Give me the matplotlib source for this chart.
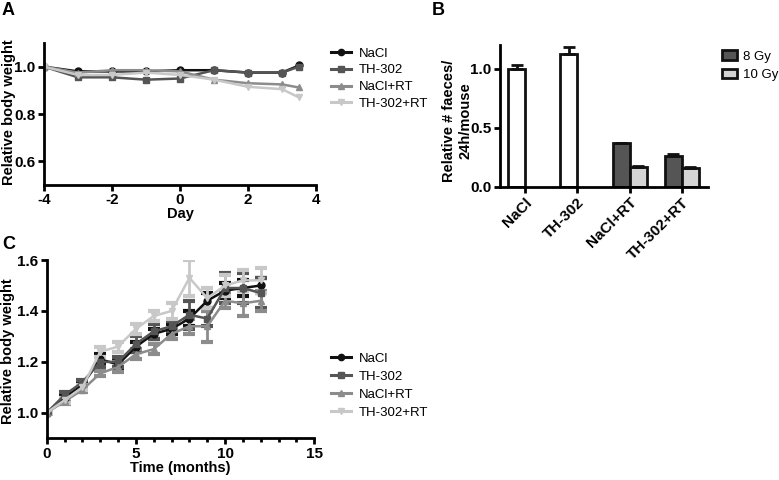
import matplotlib
matplotlib.use("Agg")
import matplotlib.pyplot as plt
from matplotlib.lines import Line2D
import numpy as np

plt.rcParams['font.family'] = ['Liberation Sans', 'DejaVu Sans']
plt.rcParams['axes.unicode_minus'] = False

# ---- Panel A data ----
days = [-4, -3, -2, -1, 0, 1, 2, 3, 3.5]
a_nacl = [1.00, 0.980, 0.980, 0.980, 0.985, 0.985, 0.975, 0.975, 1.005]
a_th302 = [1.00, 0.955, 0.955, 0.945, 0.950, 0.985, 0.975, 0.975, 1.000]
a_naclrt = [1.00, 0.975, 0.985, 0.985, 0.980, 0.945, 0.930, 0.925, 0.912]
a_th302rt = [1.00, 0.965, 0.965, 0.975, 0.965, 0.945, 0.915, 0.905, 0.870]

# ---- Panel B data ----
b_groups = ['NaCl', 'TH-302', 'NaCl+RT', 'TH-302+RT']
b_ctrl = [1.00, 1.12, np.nan, np.nan]
b_ctrl_err = [0.03, 0.06, 0, 0]
b_8gy = [np.nan, np.nan, 0.37, 0.265]
b_8gy_err = [0, 0, 0.005, 0.015]
b_10gy = [np.nan, np.nan, 0.17, 0.16]
b_10gy_err = [0, 0, 0.005, 0.005]

# ---- Panel C data ----
months = list(range(13))
c_nacl = [1.00, 1.06, 1.11, 1.21, 1.19, 1.26, 1.31, 1.33, 1.37, 1.44, 1.48, 1.49, 1.50]
c_nacl_err = [0, 0.01, 0.01, 0.02, 0.02, 0.02, 0.02, 0.02, 0.03, 0.03, 0.03, 0.03, 0.03]
c_th302 = [1.00, 1.07, 1.12, 1.20, 1.20, 1.27, 1.32, 1.34, 1.385, 1.37, 1.49, 1.49, 1.47]
c_th302_err = [0, 0.01, 0.01, 0.02, 0.02, 0.03, 0.03, 0.02, 0.055, 0.03, 0.06, 0.06, 0.06]
c_naclrt = [1.00, 1.045, 1.09, 1.155, 1.18, 1.23, 1.25, 1.31, 1.34, 1.34, 1.44, 1.43, 1.44]
c_naclrt_err = [0, 0.01, 0.01, 0.01, 0.02, 0.02, 0.02, 0.02, 0.03, 0.06, 0.03, 0.05, 0.04]
c_th302rt = [1.00, 1.05, 1.10, 1.24, 1.26, 1.33, 1.38, 1.40, 1.53, 1.45, 1.50, 1.52, 1.52]
c_th302rt_err = [0, 0.01, 0.01, 0.02, 0.02, 0.02, 0.02, 0.03, 0.07, 0.04, 0.04, 0.04, 0.05]

names = ['NaCl', 'TH-302', 'NaCl+RT', 'TH-302+RT']
colors = ['#111111', '#555555', '#8c8c8c', '#c8c8c8']
markers = ['o', 's', '^', 'v']

fig = plt.figure(figsize=(7.79, 4.80), dpi=100)
W, H = 779, 480

def axes_px(l, t, r, b):
    return fig.add_axes([l / W, 1 - b / H, (r - l) / W, (b - t) / H])

def style(ax):
    for s in ['top', 'right']:
        ax.spines[s].set_visible(False)
    for s in ['left', 'bottom']:
        ax.spines[s].set_linewidth(2)
    ax.tick_params(width=2, length=4, labelsize=11, pad=2)
    for lab in ax.get_xticklabels() + ax.get_yticklabels():
        lab.set_fontweight('bold')

def ylabel_at(ax, text, xpx, ycpx, l, t, r, b):
    ax.set_ylabel(text, fontsize=10.5, fontweight='bold')
    ax.yaxis.set_label_coords((xpx - l) / (r - l), (b - ycpx) / (b - t))
    ax.yaxis.label.set_va('center')

def legend_handles():
    return [Line2D([], [], color=c, marker=m, markersize=4.5, linewidth=2.2) for c, m in zip(colors, markers)]

# ---- Panel A ----
A = (44, 43, 316, 185)
axA = axes_px(*A)
for vals, c, m, n in zip([a_nacl, a_th302, a_naclrt, a_th302rt], colors, markers, names):
    axA.plot(days, vals, color=c, marker=m, markersize=5, linewidth=1.8, label=n)
axA.set_xlim(-4, 4)
axA.set_ylim(0.5, 1.1)
axA.set_xticks([-4, -2, 0, 2, 4])
axA.set_yticks([0.6, 0.8, 1.0])
style(axA)
axA.set_xlabel('Day', fontsize=10.5, fontweight='bold', labelpad=0)
ylabel_at(axA, 'Relative body weight', 9, 112, *A)
axA.legend(legend_handles(), names, loc='upper left', bbox_to_anchor=(326 / W, 1 - 42 / H),
           bbox_transform=fig.transFigure, frameon=False, fontsize=9.5, handlelength=1.5,
           labelspacing=0.35, handletextpad=0.6, borderaxespad=0)

# ---- Panel B ----
B = (500, 45, 708, 187)
axB = axes_px(*B)
x = np.arange(len(b_groups))
bw = 0.325
ekw = dict(capsize=4, elinewidth=2, capthick=2, ecolor='#111111')
axB.bar(x - bw / 2, b_ctrl, width=bw, color='white', edgecolor='#111111', linewidth=2,
        yerr=[np.zeros(4), b_ctrl_err], error_kw=ekw)
axB.bar(x - bw / 2, b_8gy, width=bw, color='#555555', edgecolor='#111111', linewidth=2,
        yerr=[np.zeros(4), b_8gy_err], error_kw=ekw, label='8 Gy')
axB.bar(x + bw / 2, b_10gy, width=bw, color='#d4d4d4', edgecolor='#111111', linewidth=2,
        yerr=[np.zeros(4), b_10gy_err], error_kw=ekw, label='10 Gy')
axB.set_xlim(-0.48, 3.5)
axB.set_ylim(0, 1.2)
axB.set_yticks([0.0, 0.5, 1.0])
axB.set_xticks(x)
axB.set_xticklabels(b_groups, rotation=45, ha='right', rotation_mode='anchor')
style(axB)
ylabel_at(axB, 'Relative # faeces/\n24h/mouse', 457, 121, *B)
axB.legend(loc='upper left', bbox_to_anchor=(717 / W, 1 - 45 / H), bbox_transform=fig.transFigure,
           frameon=False, fontsize=9.5, handlelength=1.1, handleheight=0.75, labelspacing=0.45,
           handletextpad=0.5, borderaxespad=0)

# ---- Panel C ----
C = (46.7, 260, 314.3, 438.3)
axC = axes_px(*C)
for vals, errs, c, m, n in zip([c_nacl, c_th302, c_naclrt, c_th302rt],
                               [c_nacl_err, c_th302_err, c_naclrt_err, c_th302rt_err],
                               colors, markers, names):
    axC.errorbar(months, vals, yerr=errs, color=c, marker=m, markersize=5, linewidth=1.8,
                 capsize=4, elinewidth=2, capthick=3, label=n)
axC.set_xlim(0, 15)
axC.set_ylim(0.9, 1.6)
axC.set_xticks([0, 5, 10, 15])
axC.set_xticks(np.arange(0, 16, 1), minor=True)
style(axC)
axC.tick_params(which='minor', width=2, length=3)
axC.set_xlabel('Time (months)', fontsize=10.5, fontweight='bold', labelpad=0)
ylabel_at(axC, 'Relative body weight', 8, 351, *C)
axC.legend(legend_handles(), names, loc='upper left', bbox_to_anchor=(326 / W, 1 - 347 / H),
           bbox_transform=fig.transFigure, frameon=False, fontsize=9.5, handlelength=1.5,
           labelspacing=0.45, handletextpad=0.6, borderaxespad=0)

# panel letters
fig.text(2 / W, 1 - 2 / H, 'A', fontsize=13, fontweight='bold', va='top', ha='left')
fig.text(432 / W, 1 - 2 / H, 'B', fontsize=13, fontweight='bold', va='top', ha='left')
fig.text(2 / W, 1 - 236 / H, 'C', fontsize=13, fontweight='bold', va='top', ha='left')

fig.savefig('out.png', dpi=100)
